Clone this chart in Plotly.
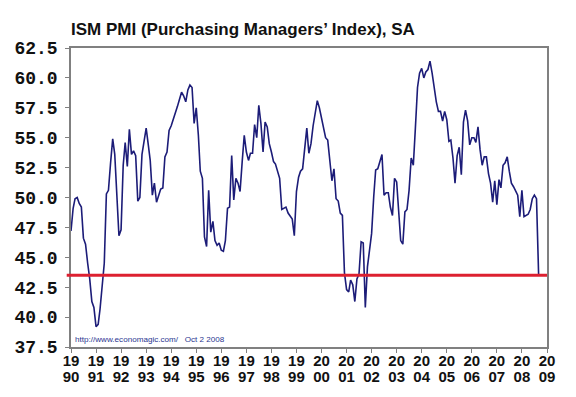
import plotly.graph_objects as go

# ---- data (ISM PMI, monthly, SA) ----
v1990 = [47.2, 49.1, 49.9, 50.0, 49.5, 49.2, 46.6, 46.1, 44.5, 43.2, 41.3, 40.8]
v1991 = [39.2, 39.4, 40.7, 42.8, 44.5, 50.3, 50.6, 52.9, 54.9, 53.6, 49.5, 46.8]
v1992 = [47.3, 52.7, 54.6, 52.6, 55.7, 53.6, 53.9, 53.5, 49.7, 50.0, 53.6, 54.8]
v1993 = [55.8, 54.4, 53.1, 50.2, 51.2, 49.6, 50.2, 50.7, 50.8, 53.4, 53.8, 55.6]
v1994 = [56.0, 56.5, 57.0, 57.6, 58.2, 58.8, 58.5, 58.0, 59.0, 59.4, 59.2, 56.2]
v1995 = [57.5, 55.2, 52.2, 51.6, 46.7, 45.9, 50.6, 47.1, 48.0, 46.4, 46.0, 46.2]
v1996 = [45.6, 45.5, 46.4, 49.1, 49.2, 53.5, 49.8, 51.6, 51.2, 50.5, 53.0, 55.2]
v1997 = [53.8, 53.1, 53.7, 53.7, 56.1, 55.0, 57.7, 56.2, 53.8, 56.3, 55.9, 54.5]
v1998 = [53.8, 53.0, 52.8, 52.2, 51.6, 49.0, 49.1, 49.2, 48.7, 48.5, 48.2, 46.8]
v1999 = [50.5, 51.7, 52.2, 52.4, 54.0, 55.8, 53.7, 54.5, 56.0, 57.2, 58.1, 57.5]
v2000 = [56.7, 55.8, 55.0, 54.8, 53.2, 51.4, 52.4, 49.9, 49.7, 48.7, 48.5, 43.7]
v2001 = [42.3, 42.1, 43.1, 42.7, 41.3, 43.2, 43.6, 46.3, 46.2, 40.8, 44.2, 45.6]
v2002 = [47.0, 50.1, 52.3, 52.4, 52.9, 53.6, 50.2, 50.4, 50.4, 49.2, 48.5, 51.6]
v2003 = [51.3, 48.7, 46.4, 46.1, 48.8, 49.0, 50.6, 53.3, 52.7, 55.8, 59.2, 60.4]
v2004 = [60.8, 60.0, 60.5, 60.7, 61.4, 60.4, 59.0, 58.0, 57.2, 57.2, 56.4, 57.2]
v2005 = [56.5, 54.7, 54.8, 53.3, 51.2, 53.5, 54.2, 51.9, 56.3, 57.3, 56.4, 54.4]
v2006 = [55.0, 55.0, 54.6, 55.9, 54.0, 52.7, 53.4, 53.4, 52.0, 51.2, 49.6, 51.4]
v2007 = [49.4, 51.5, 50.8, 52.7, 52.9, 53.4, 52.2, 51.2, 50.9, 50.5, 50.2, 48.4]
v2008 = [50.6, 48.4, 48.5, 48.6, 49.0, 49.9, 50.2, 49.9, 43.5]

years = list(range(1990, 2009))
yearly = [v1990, v1991, v1992, v1993, v1994, v1995, v1996, v1997, v1998, v1999,
          v2000, v2001, v2002, v2003, v2004, v2005, v2006, v2007, v2008]

reference_level = 43.5

tick_years = list(range(1990, 2010))
tick_top = [str(y)[:2] for y in tick_years]
tick_bottom = [str(y)[2:] for y in tick_years]

y_ticks = [37.5, 40.0, 42.5, 45.0, 47.5, 50.0, 52.5, 55.0, 57.5, 60.0, 62.5]

title_text = "ISM PMI (Purchasing Managers\u2019 Index), SA"
source_text = "http://www.economagic.com/&nbsp;&nbsp;&nbsp;Oct 2 2008"

# ---- build series ----
dates, values = [], []
for y, vals in zip(years, yearly):
    for m, v in enumerate(vals, start=1):
        dates.append(f"{y}-{m:02d}-01")
        values.append(v)

tick_dates = [f"{y}-01-01" for y in tick_years]
x_range = [tick_dates[0], tick_dates[-1]]

SANS = "Liberation Sans, Arial, sans-serif"

# page body has an 8px default margin -> figure is 560x381 placed at (8, 8)
W, H = 560, 381

fig = go.Figure()
fig.add_trace(go.Scatter(x=dates, y=values, mode="lines",
                         line=dict(color="#1c1c78", width=1.6),
                         showlegend=False, hoverinfo="skip"))
# invisible anchor for the overlaying axis that carries the second label row
fig.add_trace(go.Scatter(x=[x_range[0]], y=[reference_level], xaxis="x2",
                         mode="markers", marker=dict(opacity=0),
                         showlegend=False, hoverinfo="skip"))

fig.add_shape(type="line", xref="paper", yref="y", x0=-0.009, x1=1.0,
              y0=reference_level, y1=reference_level,
              line=dict(color="#dd2030", width=3), layer="above")

fig.update_layout(
    width=W, height=H,
    margin=dict(l=63, r=21, t=40, b=42, autoexpand=False),
    paper_bgcolor="white", plot_bgcolor="white",
    title=dict(text=f"<b>{title_text}</b>", x=63/W, xref="container",
               xanchor="left", y=1 - 21/H, yref="container", yanchor="middle",
               automargin=False,
               font=dict(family=SANS, size=17, color="#111111")),
    xaxis=dict(type="date", range=x_range, tickvals=tick_dates, ticktext=tick_top,
               automargin=False,
               showgrid=False, zeroline=False, showline=True, mirror=True,
               linecolor="#808080", linewidth=1.5, ticks="outside", ticklen=4,
               tickcolor="#808080", tickwidth=1, ticklabelstandoff=-5,
               tickfont=dict(family=SANS, size=15, color="#111111", weight="bold")),
    xaxis2=dict(type="date", range=x_range, overlaying="x", side="bottom",
                automargin=False,
                tickvals=tick_dates, ticktext=tick_bottom, showgrid=False,
                zeroline=False, showline=False, ticks="", ticklabelstandoff=19,
                tickfont=dict(family=SANS, size=15, color="#111111", weight="bold")),
    yaxis=dict(range=[37.5, 62.5], tickvals=y_ticks, tickformat=".1f",
               automargin=False,
               showgrid=False, zeroline=False, showline=True, mirror=True,
               linecolor="#808080", linewidth=1.5, ticks="outside", ticklen=4,
               tickcolor="#808080", tickwidth=1, ticklabelstandoff=4,
               tickfont=dict(family="Liberation Mono, Courier New, monospace",
                             size=18, color="#111111", weight="bold")),
    annotations=[dict(text=source_text, xref="paper", yref="paper",
                      x=2/476, y=8/299, xanchor="left", yanchor="middle",
                      showarrow=False,
                      font=dict(family=SANS, size=8.1, color="#2a3590"))],
)

fig.write_html("out.html")
